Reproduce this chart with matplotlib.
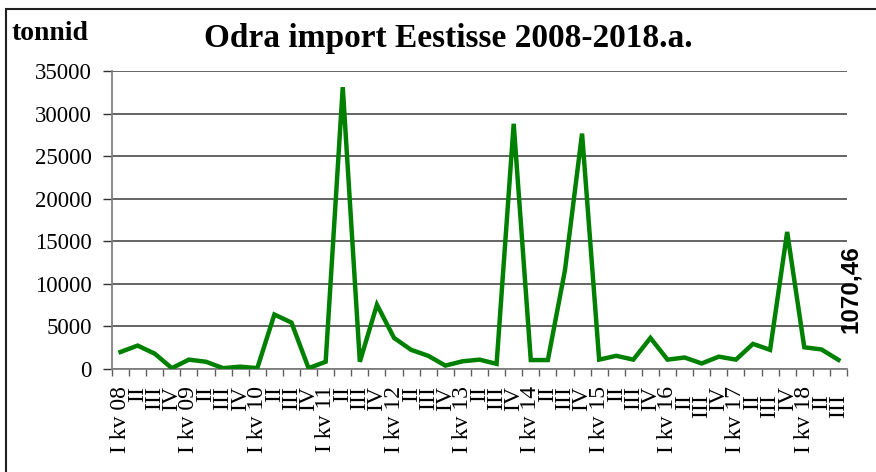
import matplotlib
matplotlib.use("Agg")
import matplotlib.pyplot as plt
import matplotlib.transforms as mtransforms
from matplotlib.patches import Rectangle

years = ["08", "09", "10", "11", "12", "13", "14", "15", "16", "17", "18"]
quarters = ["I kv", "II", "III", "IV"]
labels = []
for y in years:
    for q in quarters:
        labels.append(f"{q} {y}" if q == "I kv" else q)
labels = labels[:43]

values = [2000, 2750, 1800, 100, 1100, 850, 100, 275, 100, 6400,
          5450, 100, 850, 33100, 850, 7550, 3650, 2250, 1550, 400,
          900, 1100, 600, 28800, 1050, 1050, 11600, 27650, 1100, 1550,
          1100, 3650, 1100, 1350, 650, 1450, 1100, 2950, 2250, 16100,
          2550, 2300, 1070.46]
last_label = "1070,46"

title = "Odra import Eestisse 2008-2018.a."
ylabel = "tonnid"
yticks = [0, 5000, 10000, 15000, 20000, 25000, 30000, 35000]

serif = ["Liberation Serif", "DejaVu Serif"]
sans = ["Liberation Sans", "DejaVu Sans"]

fig = plt.figure(figsize=(8.76, 4.72), dpi=100)
ax = fig.add_axes([112/876, 103/472, 735/876, 298/472])

x = list(range(len(values)))
ax.plot(x, values, color="#008000", lw=3.2, solid_joinstyle="miter", zorder=3)

ax.set_xlim(-0.5, len(values) - 0.5)
ax.set_ylim(0, 35000)
ax.set_yticks(yticks)
ax.set_yticklabels([str(v) for v in yticks], family=serif, fontsize=16.5)
ax.yaxis.grid(True, color="#3a3a3a", lw=1.1)
ax.set_axisbelow(True)

ax.set_xticks(x)
ax.set_xticklabels(labels, rotation=90, family=serif, fontsize=17, va="top")
ax.set_xticks([i - 0.5 for i in range(len(values) + 1)], minor=True)
ax.tick_params(axis="x", which="major", length=0, pad=12)
ax.tick_params(axis="x", which="minor", length=5, width=1, color="#606060", direction="out")
ax.tick_params(axis="y", length=6.5, width=1, color="#303030", pad=8)

for sp in ["top", "right"]:
    ax.spines[sp].set_visible(False)
ax.spines["left"].set_color("#808080")
ax.spines["left"].set_linewidth(1.3)
ax.spines["bottom"].set_color("#808080")
ax.spines["bottom"].set_linewidth(1.3)

# some late labels are placed lower in the original
for i, lab in enumerate(ax.get_xticklabels()):
    if i >= 32 and labels[i] in ("II", "III"):
        off = mtransforms.ScaledTranslation(0, -8/100, fig.dpi_scale_trans)
        lab.set_transform(lab.get_transform() + off)

ax.annotate(last_label, (x[-1], values[-1]), xytext=(9, 19), textcoords="offset points",
            rotation=90, ha="center", va="bottom", fontsize=17.5, fontweight="bold",
            family=sans, annotation_clip=False)

fig.text(448/876, 1 - 47/472, title, ha="center", va="baseline",
         fontsize=24, fontweight="bold", family=serif)
fig.text(12/876, 1 - 40/472, ylabel, ha="left", va="baseline",
         fontsize=20, fontweight="bold", family=serif)

fig.patches.append(Rectangle((5.5/876, -0.1), 1.2, (472 - 9)/472 + 0.1,
                             transform=fig.transFigure, fill=False,
                             edgecolor="#202020", lw=1.5))

fig.savefig("out.png", dpi=100)
